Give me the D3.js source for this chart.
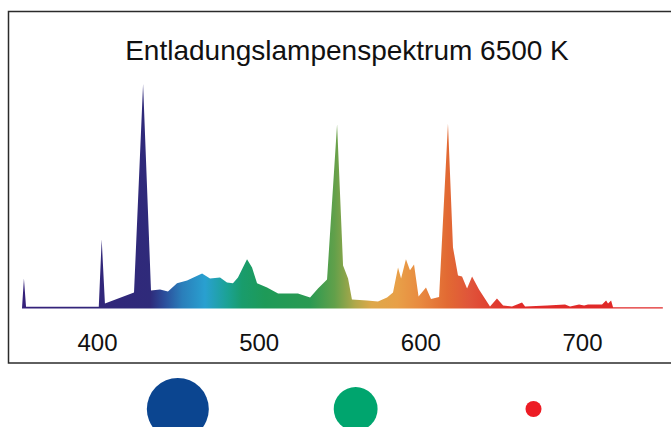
<!DOCTYPE html>
<html lang="de">
<head>
    <meta charset="UTF-8">
    <title>Entladungslampenspektrum 6500 K</title>
    <script src="https://cdnjs.cloudflare.com/ajax/libs/d3/7.8.5/d3.min.js"></script>
    <style>
        html, body { margin: 0; padding: 0; background: #fff; }
        body { font-family: Arial, "Liberation Sans", sans-serif; }
        svg { display: block; }
    </style>
</head>
<body>
    <div id="chart"></div>

    <script>
        // spectrum: wavelength (nm) and relative intensity
        var wavelengths = [353.6, 354.8, 356.1, 401.1, 402.9, 404.9, 422.9, 428.5, 433.4, 439.0,
            443.9, 449.5, 455.7, 465.0, 469.9, 476.1, 480.4, 484.1, 487.2, 492.8,
            495.9, 499.0, 505.2, 512.0, 524.3, 531.8, 536.7, 542.3, 548.5, 552.2,
            555.3, 557.7, 567.0, 573.8, 579.4, 583.1, 586.2, 588.1, 591.1, 593.6,
            596.1, 598.9, 603.5, 606.6, 611.6, 617.1, 620.2, 623.3, 625.8, 628.9,
            632.0, 636.3, 643.1, 647.4, 651.2, 656.7, 662.9, 664.8, 678.4, 689.5,
            692.6, 698.2, 701.3, 703.7, 712.4, 714.9, 716.1, 718.0, 719.2, 750.0];
        var intensity = [0, 13.4, 0.8, 0.8, 30.8, 2.2, 7.1, 100, 8.0, 8.5,
            7.6, 11.2, 12.5, 15.6, 13.4, 13.8, 11.6, 11.2, 13.8, 21.9,
            18.3, 11.2, 9.4, 6.7, 6.7, 4.9, 8.9, 12.9, 82.1, 19.2,
            13.4, 4.0, 3.6, 3.1, 4.9, 7.1, 18.3, 13.4, 21.9, 17.0,
            19.6, 5.4, 9.4, 4.2, 5.1, 82.4, 27.2, 14.7, 14.3, 8.9,
            14.3, 8.5, 0.9, 4.5, 1.3, 0.9, 2.7, 0.9, 1.3, 1.8,
            0.9, 1.8, 1.3, 1.8, 1.8, 3.6, 2.2, 3.6, 0.6, 0.6];

        var tickValues = [400, 500, 600, 700];
        var title = "Entladungslampenspektrum 6500 K";

        // colour dots under the chart: blue, green, red share
        var dotNames = ["blau", "grün", "rot"];
        var dotWavelengths = [450, 560, 670];
        var dotShares = [100, 50, 6.7];
        var dotColors = ["#0b4590", "#00a56e", "#ed1c24"];

        var width = 671, height = 427;

        var x = d3.scaleLinear().domain([400, 700]).range([97, 582]);
        var y = d3.scaleLinear().domain([0, 100]).range([308.5, 84]);
        var r = d3.scaleSqrt().domain([0, 100]).range([0, 31]);

        var svg = d3.select("#chart").append("svg")
            .attr("width", width)
            .attr("height", height);

        // gradient along the wavelength axis
        var stops = [
            [353.6, "#35217a"], [432.8, "#2f2a7a"], [442, "#2b4f9c"], [452.6, "#2a7eba"],
            [466.8, "#29a0d0"], [481, "#1ba293"], [489.7, "#199c6c"], [503.9, "#1e9a58"],
            [531.8, "#2a9a52"], [547, "#62a04a"], [559.6, "#b0a84a"], [570, "#dea84a"],
            [585.6, "#e8a048"], [599.8, "#e88a40"], [616.5, "#e26a33"], [630.7, "#e0543a"],
            [646.2, "#e03b2e"], [661.7, "#e02a28"], [750, "#e02828"]
        ];
        var x0 = x(353.6), x1 = x(750);
        var defs = svg.append("defs");
        var grad = defs.append("linearGradient")
            .attr("id", "spec")
            .attr("gradientUnits", "userSpaceOnUse")
            .attr("x1", x0).attr("x2", x1)
            .attr("y1", 0).attr("y2", 0);
        grad.selectAll("stop").data(stops).enter().append("stop")
            .attr("offset", function(d) { return (x(d[0]) - x0) / (x1 - x0); })
            .attr("stop-color", function(d) { return d[1]; });

        // frame
        svg.append("rect")
            .attr("x", 8.5).attr("y", 11.5)
            .attr("width", 700).attr("height", 351.5)
            .attr("fill", "none")
            .attr("stroke", "#2b2b2b")
            .attr("stroke-width", 1.5);

        svg.append("text")
            .attr("x", 347).attr("y", 60)
            .attr("text-anchor", "middle")
            .style("font-size", "28px")
            .attr("fill", "#111")
            .text(title);

        var data = wavelengths.map(function(w, i) { return {w: w, v: intensity[i]}; });

        var area = d3.area()
            .x(function(d) { return x(d.w); })
            .y0(y(0))
            .y1(function(d) { return y(d.v); });

        svg.append("path")
            .datum(data)
            .attr("fill", "url(#spec)")
            .attr("d", area);

        var axis = svg.append("g")
            .attr("transform", "translate(0,326)")
            .call(d3.axisBottom(x).tickValues(tickValues).tickSize(0).tickPadding(8));
        axis.select(".domain").remove();
        axis.selectAll("text")
            .style("font-size", "24px")
            .style("font-family", "Arial, 'Liberation Sans', sans-serif")
            .attr("fill", "#111");

        svg.selectAll(".dot")
            .data(dotNames)
            .enter().append("circle")
            .attr("class", "dot")
            .attr("cx", function(d, i) { return x(dotWavelengths[i]); })
            .attr("cy", 409)
            .attr("r", function(d, i) { return r(dotShares[i]); })
            .attr("fill", function(d, i) { return dotColors[i]; });
    </script>
</body>
</html>
